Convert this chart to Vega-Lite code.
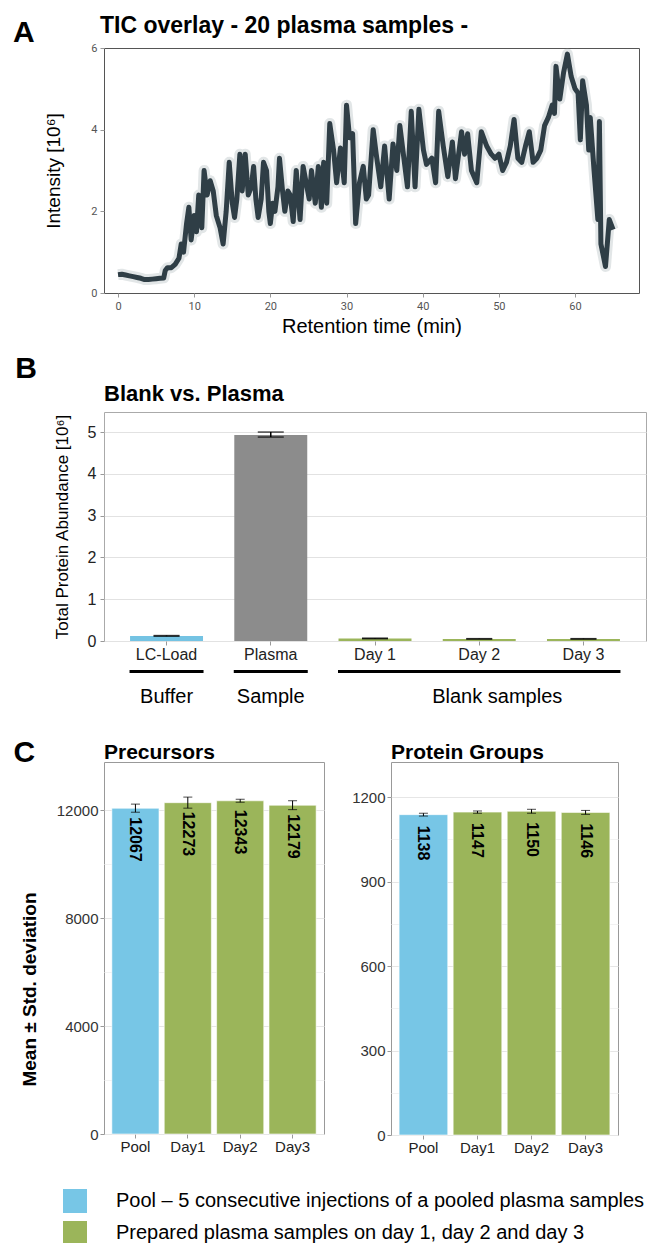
{
  "$schema": "https://vega.github.io/schema/vega-lite/v6.json",
  "padding": {"left": 12, "top": 14, "right": 2, "bottom": 0},
  "config": {
    "font": "Liberation Sans",
    "view": {"stroke": "#999"},
    "axis": {"domain": false, "grid": false, "tickColor": "#999", "labelColor": "#333", "titleColor": "#000", "titleFontWeight": "normal", "labelFont": "Liberation Sans", "titleFont": "Liberation Sans"},
    "title": {"fontWeight": "bold", "color": "#000", "font": "Liberation Sans"},
    "legend": {"labelFont": "Liberation Sans"}
  },
  "datasets": {
    "tic": [
      {"t":0,"v":0.45},{"t":0.5,"v":0.46},{"t":1,"v":0.44},{"t":1.5,"v":0.42},{"t":2,"v":0.4},{"t":2.5,"v":0.38},{"t":3,"v":0.36},{"t":3.5,"v":0.33},{"t":4,"v":0.33},{"t":4.5,"v":0.34},{"t":5,"v":0.35},{"t":5.5,"v":0.36},{"t":6,"v":0.37},{"t":6.2,"v":0.55},{"t":6.5,"v":0.62},{"t":7,"v":0.62},{"t":7.5,"v":0.7},{"t":8,"v":0.85},{"t":8.3,"v":1.2},{"t":8.6,"v":1.0},{"t":9,"v":1.7},{"t":9.3,"v":2.1},{"t":9.6,"v":1.3},{"t":10,"v":1.9},{"t":10.3,"v":1.5},{"t":10.6,"v":2.4},{"t":11,"v":1.6},{"t":11.3,"v":3.0},{"t":11.7,"v":2.4},{"t":12.1,"v":2.75},{"t":12.5,"v":2.5},{"t":12.9,"v":1.9},{"t":13.4,"v":1.6},{"t":13.8,"v":1.2},{"t":14.2,"v":2.0},{"t":14.6,"v":3.2},{"t":15,"v":2.2},{"t":15.3,"v":1.85},{"t":15.6,"v":2.3},{"t":16,"v":3.4},{"t":16.3,"v":2.5},{"t":16.7,"v":3.4},{"t":17.1,"v":2.4},{"t":17.5,"v":2.6},{"t":17.8,"v":3.1},{"t":18.1,"v":2.3},{"t":18.4,"v":1.85},{"t":18.8,"v":2.3},{"t":19.1,"v":3.2},{"t":19.5,"v":3.0},{"t":19.8,"v":2.0},{"t":20,"v":1.7},{"t":20.3,"v":2.2},{"t":20.6,"v":2.0},{"t":21,"v":2.6},{"t":21.2,"v":3.3},{"t":21.6,"v":2.5},{"t":21.9,"v":2.0},{"t":22.3,"v":2.5},{"t":22.6,"v":2.4},{"t":23,"v":1.75},{"t":23.4,"v":3.0},{"t":23.9,"v":1.8},{"t":24.3,"v":3.1},{"t":24.8,"v":2.6},{"t":25.1,"v":2.3},{"t":25.4,"v":3.0},{"t":25.9,"v":2.2},{"t":26.3,"v":3.1},{"t":26.7,"v":2.1},{"t":27,"v":3.2},{"t":27.4,"v":2.2},{"t":27.8,"v":4.15},{"t":28.3,"v":3.5},{"t":28.7,"v":2.7},{"t":29.2,"v":3.55},{"t":29.7,"v":2.7},{"t":30,"v":4.6},{"t":30.4,"v":3.8},{"t":30.8,"v":3.9},{"t":31.2,"v":1.7},{"t":31.7,"v":2.7},{"t":32.2,"v":3.1},{"t":32.6,"v":2.3},{"t":32.9,"v":2.4},{"t":33.5,"v":4.0},{"t":33.9,"v":3.4},{"t":34.5,"v":2.6},{"t":35,"v":3.6},{"t":35.6,"v":2.3},{"t":36.1,"v":3.65},{"t":36.6,"v":3.0},{"t":37,"v":4.1},{"t":37.6,"v":3.2},{"t":38,"v":2.6},{"t":38.5,"v":4.45},{"t":39,"v":2.6},{"t":39.5,"v":4.5},{"t":40.1,"v":3.5},{"t":40.5,"v":3.15},{"t":41.2,"v":3.3},{"t":41.7,"v":2.7},{"t":42.1,"v":4.45},{"t":42.7,"v":3.6},{"t":43.3,"v":2.85},{"t":43.9,"v":3.7},{"t":44.3,"v":2.8},{"t":45.1,"v":3.95},{"t":45.5,"v":3.4},{"t":45.9,"v":3.9},{"t":46.4,"v":3.0},{"t":47.1,"v":2.7},{"t":47.7,"v":3.95},{"t":48.4,"v":3.6},{"t":49,"v":3.4},{"t":49.5,"v":3.3},{"t":50,"v":3.4},{"t":50.5,"v":3.0},{"t":51,"v":3.2},{"t":51.5,"v":3.6},{"t":52,"v":4.25},{"t":52.5,"v":3.3},{"t":53,"v":3.2},{"t":53.5,"v":3.6},{"t":54,"v":3.95},{"t":54.5,"v":3.2},{"t":55,"v":3.3},{"t":55.5,"v":3.5},{"t":56,"v":4.1},{"t":56.5,"v":4.3},{"t":57,"v":4.6},{"t":57.3,"v":4.4},{"t":57.5,"v":5.55},{"t":58,"v":4.75},{"t":58.5,"v":5.4},{"t":59,"v":5.85},{"t":59.5,"v":5.3},{"t":60,"v":5.0},{"t":60.4,"v":4.9},{"t":60.7,"v":3.75},{"t":61,"v":5.2},{"t":61.5,"v":4.6},{"t":61.8,"v":3.5},{"t":62,"v":4.3},{"t":62.5,"v":3.0},{"t":63,"v":1.8},{"t":63.2,"v":4.2},{"t":63.4,"v":1.2},{"t":64,"v":0.65},{"t":64.5,"v":1.8},{"t":65,"v":1.55}
    ],
    "blank": [
      {"cat": "LC-Load", "type": "Buffer", "mean": 0.12, "lo": 0.115, "hi": 0.13},
      {"cat": "Plasma", "type": "Sample", "mean": 4.93, "lo": 4.88, "hi": 5.0},
      {"cat": "Day 1", "type": "Blank", "mean": 0.06, "lo": 0.055, "hi": 0.068},
      {"cat": "Day 2", "type": "Blank", "mean": 0.05, "lo": 0.046, "hi": 0.056},
      {"cat": "Day 3", "type": "Blank", "mean": 0.05, "lo": 0.046, "hi": 0.056}
    ],
    "groups": [
      {"group": "Buffer", "first": "LC-Load", "last": "LC-Load", "center": "LC-Load"},
      {"group": "Sample", "first": "Plasma", "last": "Plasma", "center": "Plasma"},
      {"group": "Blank samples", "first": "Day 1", "last": "Day 3", "center": "Day 2"}
    ],
    "prec": [
      {"sample": "Pool", "group": "Pool – 5 consecutive injections of a pooled plasma samples", "mean": 12067, "lo": 11920, "hi": 12220},
      {"sample": "Day1", "group": "Prepared plasma samples on day 1, day 2 and day 3", "mean": 12273, "lo": 12070, "hi": 12480},
      {"sample": "Day2", "group": "Prepared plasma samples on day 1, day 2 and day 3", "mean": 12343, "lo": 12290, "hi": 12400},
      {"sample": "Day3", "group": "Prepared plasma samples on day 1, day 2 and day 3", "mean": 12179, "lo": 12015, "hi": 12345}
    ],
    "pg": [
      {"sample": "Pool", "group": "Pool – 5 consecutive injections of a pooled plasma samples", "mean": 1138, "lo": 1133, "hi": 1143},
      {"sample": "Day1", "group": "Prepared plasma samples on day 1, day 2 and day 3", "mean": 1147, "lo": 1143, "hi": 1151},
      {"sample": "Day2", "group": "Prepared plasma samples on day 1, day 2 and day 3", "mean": 1150, "lo": 1143, "hi": 1157},
      {"sample": "Day3", "group": "Prepared plasma samples on day 1, day 2 and day 3", "mean": 1146, "lo": 1139, "hi": 1153}
    ]
  },
  "columns": 1,
  "align": "none",
  "spacing": 16,
  "resolve": {"scale": {"color": "independent"}, "legend": {"color": "independent"}},
  "concat": [
    {
      "title": {"text": "A", "orient": "left", "anchor": "end", "frame": "bounds", "angle": 0, "align": "right", "baseline": "top", "offset": -12, "dy": 3, "fontSize": 30},
      "vconcat": [
        {
          "width": 535, "height": 245,
          "title": {"text": "TIC overlay - 20 plasma samples -", "anchor": "start", "frame": "group", "fontSize": 23, "dx": -4, "offset": 4},
          "view": {"stroke": "#555"},
          "data": {"name": "tic"},
          "encoding": {
            "x": {"field": "t", "type": "quantitative", "scale": {"domain": [-1.84, 68.4], "nice": false, "zero": false},
              "axis": {"values": [0, 10, 20, 30, 40, 50, 60], "title": "Retention time (min)", "titleFontSize": 20, "titlePadding": 5, "labelFontSize": 11, "labelFont": "Roboto", "labelColor": "#555", "tickSize": 4, "labelPadding": 3}},
            "y": {"field": "v", "type": "quantitative", "scale": {"domain": [0, 6], "nice": false},
              "axis": {"values": [0, 2, 4, 6], "title": "Intensity [10⁶]", "titleFontSize": 19, "titlePadding": 27, "labelFontSize": 11, "labelFont": "Roboto", "labelColor": "#555", "tickSize": 4, "labelPadding": 3}}
          },
          "layer": [
            {"mark": {"type": "line", "strokeWidth": 11, "color": "#9eabb1", "opacity": 0.3, "strokeJoin": "round"}},
            {"mark": {"type": "line", "strokeWidth": 5, "color": "#2f3e46", "strokeJoin": "round"}}
          ]
        }
      ]
    },
    {
      "title": {"text": "B", "orient": "left", "anchor": "end", "frame": "bounds", "angle": 0, "align": "right", "baseline": "alphabetic", "offset": -6, "dy": -5, "fontSize": 30},
      "spacing": 0,
      "vconcat": [
        {
          "width": 542, "height": 229,
          "title": {"text": "Blank vs. Plasma", "anchor": "start", "frame": "group", "fontSize": 22, "offset": 6},
          "view": {"stroke": "#aaa"},
          "data": {"name": "blank"},
          "encoding": {
            "x": {"field": "cat", "type": "nominal", "sort": null,
              "scale": {"domain": ["LC-Load", "Plasma", "Day 1", "Day 2", "Day 3"], "paddingInner": 0.3, "paddingOuter": 0.25},
              "axis": {"title": null, "labelAngle": 0, "labelFontSize": 16, "labelColor": "#222", "tickSize": 4, "labelPadding": 1}}
          },
          "layer": [
            {
              "mark": {"type": "bar"},
              "encoding": {
                "y": {"field": "mean", "type": "quantitative", "scale": {"domain": [0, 5.48], "nice": false},
                  "axis": {"title": "Total Protein Abundance [10⁶]", "titleFontSize": 17, "titlePadding": 16, "values": [0, 0.5, 1, 1.5, 2, 2.5, 3, 3.5, 4, 4.5, 5],
                    "labelExpr": "datum.value % 1 === 0 ? format(datum.value, 'd') : ''", "labelFontSize": 16, "labelColor": "#222", "labelPadding": 4, "tickSize": 4,
                    "grid": true, "gridColor": {"condition": {"test": "datum.value % 1 === 0", "value": "#e2e2e2"}, "value": "#f0f0f0"},
                    "tickOpacity": {"condition": {"test": "datum.value % 1 === 0", "value": 1}, "value": 0}}},
                "color": {"field": "type", "type": "nominal", "scale": {"domain": ["Buffer", "Sample", "Blank"], "range": ["#74c3e3", "#8c8c8c", "#9bb55a"]}, "legend": null}
              }
            },
            {
              "mark": {"type": "errorbar", "ticks": {"size": 26}, "thickness": 1.5, "color": "#000"},
              "encoding": {
                "y": {"field": "lo", "type": "quantitative", "title": "Total Protein Abundance [10⁶]"},
                "y2": {"field": "hi"}
              }
            }
          ]
        },
        {
          "width": 542, "height": 58,
          "view": {"stroke": null},
          "data": {"name": "groups"},
          "encoding": {
            "y": {"datum": "line", "type": "nominal", "scale": {"type": "point", "domain": ["line", "label"], "padding": 0.66, "align": 0.26}, "axis": null}
          },
          "layer": [
            {
              "mark": {"type": "rule", "strokeWidth": 3, "color": "#000", "xOffset": -37, "x2Offset": 37},
              "encoding": {
                "x": {"field": "first", "type": "nominal", "scale": {"domain": ["LC-Load", "Plasma", "Day 1", "Day 2", "Day 3"], "paddingInner": 0.3, "paddingOuter": 0.25}, "axis": null},
                "x2": {"field": "last"}
              }
            },
            {
              "transform": [{"filter": "datum.first === datum.last"}],
              "mark": {"type": "text", "fontSize": 20, "color": "#000"},
              "encoding": {
                "x": {"field": "center", "type": "nominal", "axis": null},
                "y": {"datum": "label", "type": "nominal", "axis": null},
                "text": {"field": "group"}
              }
            },
            {
              "transform": [{"filter": "datum.first !== datum.last"}],
              "mark": {"type": "text", "fontSize": 20, "color": "#000", "dx": 18},
              "encoding": {
                "x": {"field": "center", "type": "nominal", "axis": null},
                "y": {"datum": "label", "type": "nominal", "axis": null},
                "text": {"field": "group"}
              }
            }
          ]
        }
      ]
    },
    {
      "title": {"text": "C", "orient": "left", "anchor": "end", "frame": "bounds", "angle": 0, "align": "right", "baseline": "top", "offset": -37, "dy": -4, "fontSize": 30},
      "spacing": 26,
      "hconcat": [
        {
          "width": 220, "height": 372,
          "title": {"text": "Precursors", "anchor": "start", "frame": "group", "fontSize": 21, "offset": -1},
          "view": {"stroke": "#999"},
          "data": {"name": "prec"},
          "encoding": {
            "x": {"field": "sample", "type": "nominal", "sort": null,
              "scale": {"domain": ["Pool", "Day1", "Day2", "Day3"], "paddingInner": 0.1, "paddingOuter": 0.15},
              "axis": {"title": null, "labelAngle": 0, "labelFontSize": 15, "labelColor": "#222", "tickSize": 4, "labelPadding": 1}}
          },
          "layer": [
            {
              "mark": {"type": "bar", "stroke": "#ffffff", "strokeWidth": 0.6},
              "encoding": {
                "y": {"field": "mean", "type": "quantitative", "scale": {"domain": [0, 13780], "nice": false},
                  "axis": {"title": "Mean ± Std. deviation", "titleFontSize": 19, "titleFontWeight": "bold", "titlePadding": 17, "titleY": 227,
                    "values": [0, 2000, 4000, 6000, 8000, 10000, 12000],
                    "labelExpr": "datum.value % 4000 === 0 ? format(datum.value, 'd') : ''", "labelFontSize": 15, "labelColor": "#333", "labelPadding": 2, "tickSize": 4,
                    "grid": true, "gridColor": {"condition": {"test": "datum.value % 4000 === 0", "value": "#e6e6e6"}, "value": "#f2f2f2"},
                    "tickOpacity": {"condition": {"test": "datum.value % 4000 === 0", "value": 1}, "value": 0}}},
                "color": {"field": "group", "type": "nominal",
                  "scale": {"domain": ["Pool – 5 consecutive injections of a pooled plasma samples", "Prepared plasma samples on day 1, day 2 and day 3"], "range": ["#77c6e6", "#9bb55a"]},
                  "legend": {"orient": "none", "legendX": -41, "legendY": 427, "direction": "vertical", "title": null, "symbolType": "square", "symbolSize": 576, "symbolStrokeWidth": 0, "labelFontSize": 20, "labelLimit": 0, "labelColor": "#000", "labelOffset": 29, "rowPadding": 8}}
              }
            },
            {
              "mark": {"type": "errorbar", "ticks": {"size": 9}, "thickness": 1, "color": "#000"},
              "encoding": {"y": {"field": "lo", "type": "quantitative", "title": "Mean ± Std. deviation"}, "y2": {"field": "hi"}}
            },
            {
              "mark": {"type": "text", "angle": 90, "align": "left", "baseline": "middle", "dx": 9, "fontSize": 16, "fontWeight": "bold", "color": "#000"},
              "encoding": {"y": {"field": "mean", "type": "quantitative", "title": "Mean ± Std. deviation"}, "text": {"field": "mean", "type": "quantitative", "format": "d"}}
            }
          ]
        },
        {
          "width": 227, "height": 373,
          "title": {"text": "Protein Groups", "anchor": "start", "frame": "group", "fontSize": 21, "offset": -1},
          "view": {"stroke": "#999"},
          "data": {"name": "pg"},
          "encoding": {
            "x": {"field": "sample", "type": "nominal", "sort": null,
              "scale": {"domain": ["Pool", "Day1", "Day2", "Day3"], "paddingInner": 0.1, "paddingOuter": 0.15},
              "axis": {"title": null, "labelAngle": 0, "labelFontSize": 15, "labelColor": "#222", "tickSize": 4, "labelPadding": 1}}
          },
          "layer": [
            {
              "mark": {"type": "bar", "stroke": "#ffffff", "strokeWidth": 0.6},
              "encoding": {
                "y": {"field": "mean", "type": "quantitative", "scale": {"domain": [0, 1325], "nice": false},
                  "axis": {"title": null,
                    "values": [0, 150, 300, 450, 600, 750, 900, 1050, 1200],
                    "labelExpr": "datum.value % 300 === 0 ? format(datum.value, 'd') : ''", "labelFontSize": 15, "labelColor": "#333", "labelPadding": 2, "tickSize": 4,
                    "grid": true, "gridColor": {"condition": {"test": "datum.value % 300 === 0", "value": "#e6e6e6"}, "value": "#f2f2f2"},
                    "tickOpacity": {"condition": {"test": "datum.value % 300 === 0", "value": 1}, "value": 0}}},
                "color": {"field": "group", "type": "nominal",
                  "scale": {"domain": ["Pool – 5 consecutive injections of a pooled plasma samples", "Prepared plasma samples on day 1, day 2 and day 3"], "range": ["#77c6e6", "#9bb55a"]},
                  "legend": {"orient": "none", "legendX": -41, "legendY": 427, "direction": "vertical", "title": null, "symbolType": "square", "symbolSize": 576, "symbolStrokeWidth": 0, "labelFontSize": 20, "labelLimit": 0, "labelColor": "#000", "labelOffset": 29, "rowPadding": 8}}
              }
            },
            {
              "mark": {"type": "errorbar", "ticks": {"size": 9}, "thickness": 1, "color": "#000"},
              "encoding": {"y": {"field": "lo", "type": "quantitative", "title": null}, "y2": {"field": "hi"}}
            },
            {
              "mark": {"type": "text", "angle": 90, "align": "left", "baseline": "middle", "dx": 11, "fontSize": 16, "fontWeight": "bold", "color": "#000"},
              "encoding": {"y": {"field": "mean", "type": "quantitative", "title": null}, "text": {"field": "mean", "type": "quantitative", "format": "d"}}
            }
          ]
        }
      ]
    }
  ]
}
